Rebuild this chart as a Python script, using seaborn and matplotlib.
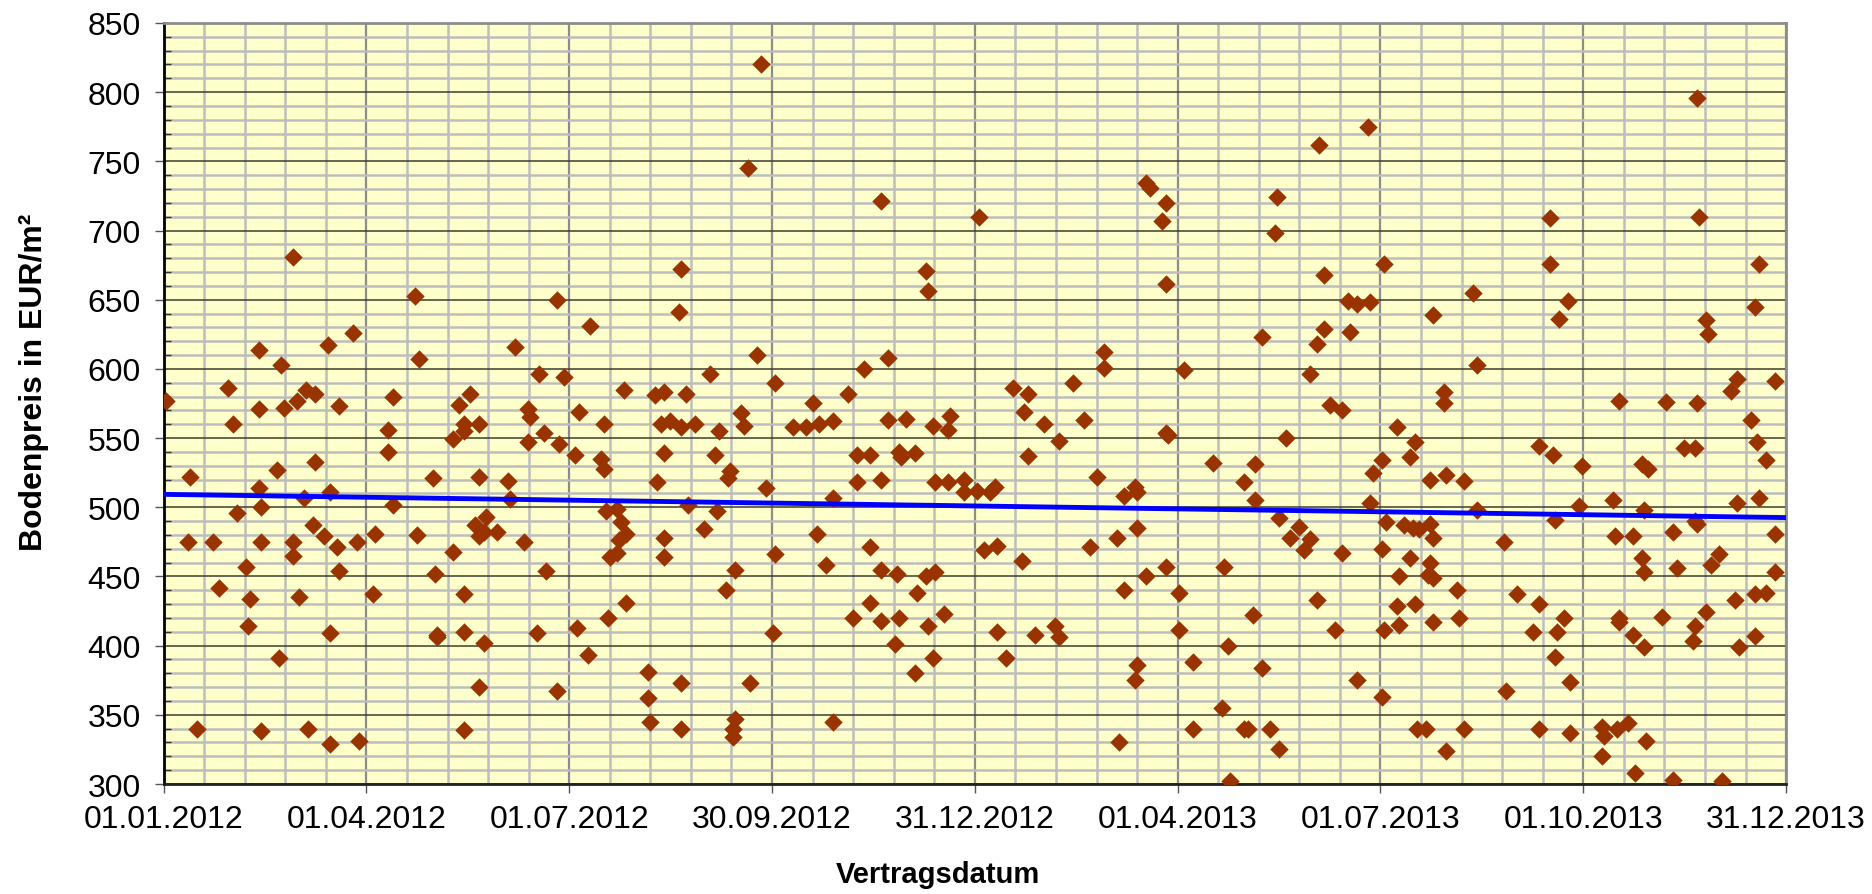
import numpy as np
import pandas as pd
import seaborn as sns
import matplotlib.pyplot as plt
from matplotlib.ticker import MultipleLocator

# Vertragstag = Tage seit 01.01.2012, Bodenpreis in EUR/m²
# 1. Halbjahr 2012
tage_2012_1 = [58, 113, 177, 85, 43, 74, 53, 115, 158, 169,
               180, 29, 64, 68, 60, 1, 103, 138, 133, 43,
               54, 79, 164, 165, 31, 101, 101, 135, 135, 142,
               130, 164, 171, 178, 12, 51, 68, 43, 75, 63,
               44, 33, 103, 121, 142, 155, 156, 145, 140, 144,
               142, 150, 67, 72, 78, 87, 95, 114, 11, 22,
               44, 58, 58, 162, 130, 37, 79, 122, 172, 25,
               39, 61, 94, 135, 38, 75, 123, 123, 135, 144,
               168, 52, 142, 177, 15, 44, 65, 75, 88, 135]
preis_2012_1 = [681, 653, 650, 626, 614, 617, 603, 607, 616, 596,
                594, 586, 585, 582, 577, 577, 580, 582, 574, 571,
                572, 573, 571, 565, 560, 556, 540, 560, 555, 560,
                549, 547, 554, 546, 522, 527, 533, 514, 511, 507,
                500, 496, 502, 521, 522, 519, 506, 493, 487, 482,
                479, 482, 487, 479, 471, 475, 481, 480, 475, 475,
                475, 475, 465, 475, 468, 457, 454, 452, 454, 442,
                434, 435, 437, 437, 414, 409, 408, 406, 410, 402,
                409, 391, 370, 367, 340, 338, 340, 329, 331, 339]

# 2. Halbjahr 2012
tage_2012_2 = [269, 263, 323, 367, 233, 343, 344, 232, 192, 267,
               326, 315, 246, 275, 207, 221, 225, 235, 308, 292,
               187, 198, 224, 228, 233, 239, 250, 260, 261, 283,
               289, 295, 301, 326, 334, 346, 354, 353, 185, 197,
               198, 225, 248, 255, 254, 222, 271, 312, 318, 331,
               332, 338, 312, 323, 347, 353, 360, 360, 366, 301,
               199, 204, 206, 208, 205, 204, 201, 236, 249, 243,
               225, 225, 294, 275, 298, 318, 257, 253, 323, 330,
               343, 347, 339, 369, 208, 200, 186, 191, 274, 318,
               310, 323, 331, 344, 351, 329, 346, 338, 218, 233,
               264, 218, 219, 233, 257, 256, 256, 301]
preis_2012_2 = [820, 745, 721, 710, 672, 671, 656, 641, 631, 610,
                608, 600, 596, 590, 585, 581, 583, 582, 582, 575,
                569, 560, 560, 562, 558, 560, 555, 568, 559, 558,
                558, 560, 562, 563, 564, 559, 566, 556, 538, 535,
                528, 539, 538, 526, 521, 518, 514, 538, 538, 540,
                536, 539, 518, 520, 518, 518, 520, 511, 512, 507,
                497, 499, 489, 481, 476, 467, 464, 502, 497, 484,
                478, 464, 481, 466, 458, 471, 455, 440, 455, 452,
                450, 453, 438, 469, 431, 420, 413, 393, 409, 431,
                420, 418, 420, 414, 423, 401, 391, 380, 381, 373,
                373, 362, 345, 340, 347, 340, 334, 345]

# 1. Halbjahr 2013
tage_2013_1 = [542, 520, 442, 444, 451, 449, 501, 500, 549, 522,
               451, 533, 537, 543, 522, 534, 494, 519, 423, 423,
               459, 516, 409, 382, 389, 387, 396, 414, 403, 389,
               451, 452, 525, 530, 505, 472, 491, 486, 491, 420,
               437, 438, 432, 372, 374, 543, 548, 544, 502, 511,
               507, 516, 513, 530, 548, 550, 438, 429, 417, 375,
               386, 451, 442, 477, 432, 457, 519, 490, 375, 392,
               401, 403, 457, 527, 549, 479, 379, 438, 437, 463,
               494, 537, 548, 476, 463, 486, 488, 498, 430, 502,
               480]
preis_2013_1 = [775, 762, 734, 731, 720, 707, 724, 698, 676, 668,
                661, 649, 647, 648, 629, 627, 623, 618, 612, 601,
                599, 596, 590, 586, 582, 569, 560, 563, 548, 537,
                554, 552, 574, 570, 550, 532, 531, 518, 505, 522,
                515, 511, 508, 511, 515, 503, 534, 525, 492, 486,
                478, 477, 469, 467, 470, 489, 485, 478, 471, 472,
                461, 457, 450, 457, 440, 438, 433, 422, 410, 408,
                414, 406, 411, 411, 411, 400, 391, 386, 375, 388,
                384, 375, 363, 355, 340, 340, 340, 340, 330, 325,
                302]

# 2. Halbjahr 2013
tage_2013_2 = [690, 624, 691, 624, 718, 589, 632, 571, 628, 716,
               694, 695, 591, 708, 725, 705, 576, 576, 655, 676,
               690, 555, 563, 561, 570, 577, 585, 591, 619, 625,
               638, 637, 626, 603, 558, 562, 565, 570, 571, 561,
               570, 569, 571, 556, 555, 563, 556, 571, 582, 583,
               609, 619, 616, 627, 630, 626, 633, 604, 564, 568,
               585, 577, 619, 633, 652, 666, 665, 668, 684, 689,
               714, 717, 721, 718, 708, 689, 690, 679, 653, 661,
               665, 666, 681, 696, 700, 725, 725, 707, 716, 721,
               655, 655, 674, 661, 666, 689, 694, 688, 709, 716,
               647, 648, 654, 659, 667, 647, 662, 679, 701]
preis_2013_2 = [796, 709, 710, 676, 676, 655, 649, 639, 636, 645,
                635, 625, 603, 593, 591, 584, 583, 575, 577, 576,
                575, 558, 547, 536, 520, 523, 519, 498, 544, 538,
                530, 501, 491, 475, 487, 485, 484, 488, 478, 463,
                460, 451, 449, 450, 429, 430, 415, 417, 440, 420,
                437, 430, 410, 410, 420, 392, 374, 367, 340, 340,
                340, 324, 340, 337, 505, 498, 531, 528, 543, 543,
                563, 547, 534, 507, 503, 490, 488, 482, 479, 479,
                463, 453, 456, 458, 466, 481, 453, 433, 437, 438,
                420, 417, 421, 408, 399, 414, 424, 403, 399, 407,
                341, 335, 340, 344, 331, 320, 308, 303, 302]

tick_labels = ["01.01.2012", "01.04.2012", "01.07.2012", "30.09.2012", "31.12.2012",
               "01.04.2013", "01.07.2013", "01.10.2013", "31.12.2013"]

df = pd.DataFrame({
    "tag": tage_2012_1 + tage_2012_2 + tage_2013_1 + tage_2013_2,
    "preis": preis_2012_1 + preis_2012_2 + preis_2013_1 + preis_2013_2,
})

sns.set_theme(style="white")
plt.rcParams["font.family"] = ["Liberation Sans", "DejaVu Sans"]
plt.rcParams["text.color"] = "black"

fig = plt.figure(figsize=(18.72, 8.95), dpi=100)
ax = fig.add_axes([0.0874, 0.1229, 0.8667, 0.8503])
ax.set_facecolor("#FFFFCC")
ax.set_axisbelow(True)

ax.set_xlim(0, 730)
ax.set_ylim(300, 850)

sns.scatterplot(data=df, x="tag", y="preis", marker="D", s=88, color="#993300",
                linewidth=0, ax=ax, zorder=3)
# lineare Trendlinie wie in Excel
sns.regplot(data=df, x="tag", y="preis", scatter=False, ci=None, truncate=False,
            color="#0000FF", line_kws={"lw": 3.5, "zorder": 4}, ax=ax)

ax.set_xlim(0, 730)
ax.set_ylim(300, 850)

ax.xaxis.set_minor_locator(MultipleLocator(18.25))
ax.yaxis.set_major_locator(MultipleLocator(50))
ax.yaxis.set_minor_locator(MultipleLocator(10))
ax.set_xticks(np.arange(len(tick_labels)) * 91.25)
ax.set_xticklabels(tick_labels)

ax.grid(which="minor", color="#BDBDBD", lw=1.8)
ax.grid(which="major", axis="x", color="#8C8C8C", lw=1.6)
ax.grid(which="major", axis="y", color="#3C3C30", lw=1.1)

ax.tick_params(axis="both", which="major", direction="out", length=6.5, width=1,
               color="#555555", labelsize=23, labelcolor="black", left=True, bottom=True)
ax.tick_params(axis="x", which="major", pad=8)
ax.tick_params(axis="y", which="major", pad=10)
ax.tick_params(axis="y", which="minor", direction="in", length=5, width=1,
               color="#333333", left=True)
ax.tick_params(axis="x", which="minor", length=0)

for side in ["top", "right"]:
    ax.spines[side].set_color("#8C8C8C")
    ax.spines[side].set_linewidth(2)
ax.spines["left"].set_color("#000000")
ax.spines["left"].set_linewidth(2)
ax.spines["bottom"].set_color("#222222")
ax.spines["bottom"].set_linewidth(2)

ax.set_xlabel("")
ax.set_ylabel("")
fig.text(0.501, 0.0223, "Vertragsdatum", ha="center", va="center", fontsize=21,
         fontweight="bold", color="black")
fig.text(0.018, 0.573, "Bodenpreis in EUR/m²", ha="center", va="center", rotation=90,
         fontsize=23, fontweight="bold", color="black")

fig.savefig("out.png", dpi=100, facecolor="white")
